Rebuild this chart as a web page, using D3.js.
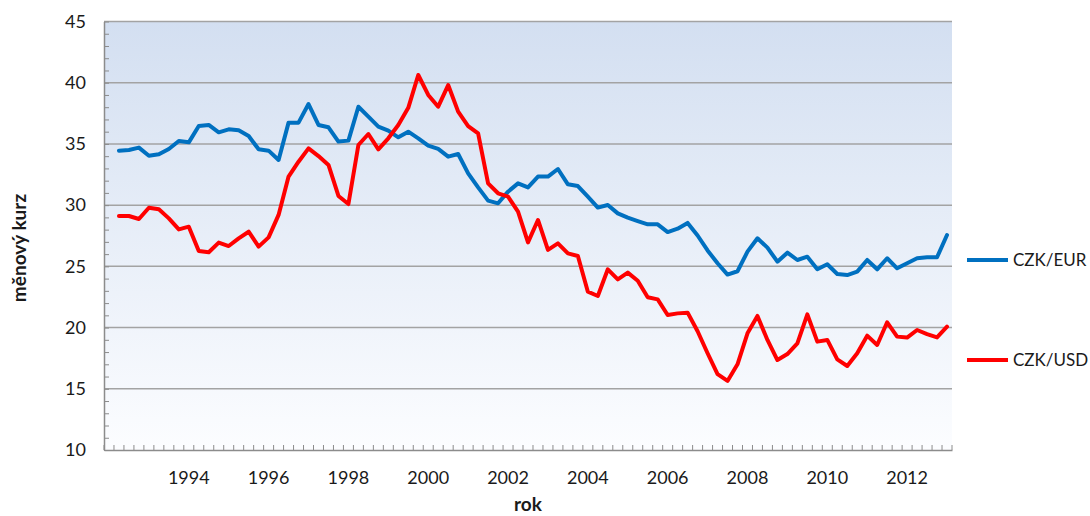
<!DOCTYPE html>
<html>
<head>
<meta charset="utf-8">
<script src="https://cdn.jsdelivr.net/npm/d3@7"></script>
<style>
    body { margin: 0; background: #fff; }
    text { font-family: Lato, "Open Sans", sans-serif; fill: #1a1a1a; }
</style>
</head>
<body>
<svg id="chart" width="1090" height="516"></svg>
<script>
// quarters 1992 Q1 .. 2013 Q1, first data point is 1992 Q2
const startYear = 1992;
const nQuarters = 85;
const categories = [];
for (let i = 0; i < nQuarters; i++) {
    categories.push((startYear + Math.floor(i / 4)) + "Q" + (i % 4 + 1));
}
const tickLabels = ["1994", "1996", "1998", "2000", "2002", "2004", "2006", "2008", "2010", "2012"];
const yTicks = [10, 15, 20, 25, 30, 35, 40, 45];

const czkEur = [
    34.45, 34.5, 34.7, 34.04, 34.15, 34.59, 35.24, 35.13, 36.46, 36.55,
    35.95, 36.19, 36.11, 35.65, 34.56, 34.45, 33.69, 36.74, 36.74, 38.26,
    36.55, 36.36, 35.19, 35.27, 38.04, 37.23, 36.41, 36.08, 35.54, 36.0,
    35.46, 34.86, 34.59, 33.96, 34.18, 32.6, 31.45, 30.37, 30.15, 31.1,
    31.78, 31.45, 32.33, 32.33, 32.95, 31.7, 31.56, 30.69, 29.8, 30.01,
    29.33, 28.98, 28.7, 28.43, 28.43, 27.8, 28.08, 28.55, 27.52, 26.3,
    25.25, 24.33, 24.6, 26.2, 27.29, 26.53, 25.38, 26.12, 25.52, 25.79,
    24.76, 25.17, 24.38, 24.29, 24.57, 25.52, 24.76, 25.66, 24.84, 25.25,
    25.66, 25.74, 25.74, 27.56
];
const czkUsd = [
    29.11, 29.11, 28.87, 29.79, 29.66, 28.92, 28.02, 28.24, 26.25, 26.15,
    26.94, 26.66, 27.29, 27.83, 26.61, 27.37, 29.2, 32.33, 33.55, 34.64,
    34.01, 33.28, 30.75, 30.09, 34.91, 35.81, 34.56, 35.46, 36.55, 37.95,
    40.63, 39.0, 38.04, 39.81, 37.64, 36.46, 35.86, 31.78, 30.97, 30.69,
    29.47, 26.96, 28.79, 26.34, 26.88, 26.06, 25.85, 22.93, 22.58, 24.76,
    23.94, 24.49, 23.83, 22.47, 22.3, 21.03, 21.16, 21.22, 19.7, 17.9,
    16.2, 15.64, 17.0, 19.53, 20.95, 18.99, 17.35, 17.84, 18.71, 21.08,
    18.85, 18.99, 17.4, 16.86, 17.9, 19.34, 18.58, 20.43, 19.26, 19.18,
    19.8, 19.47, 19.2, 20.07
];
const seriesNames = ["CZK/EUR", "CZK/USD"];
const seriesColors = ["#0070c0", "#ff0000"];

const svg = d3.select("#chart");
const plotLeft = 104, plotRight = 952, plotTop = 21.5, plotBottom = 450;

const x = d3.scaleBand().domain(categories).range([plotLeft, plotRight]).padding(0);
const y = d3.scaleLinear().domain([10, 45]).range([plotBottom, plotTop]);

// background gradient of the plot area
const grad = svg.append("defs").append("linearGradient")
    .attr("id", "bg")
    .attr("x1", 0).attr("y1", 0).attr("x2", 0).attr("y2", 1);
grad.append("stop").attr("offset", "0%").attr("stop-color", "#d3dff1");
grad.append("stop").attr("offset", "100%").attr("stop-color", "#fcfdff");

svg.append("rect")
    .attr("x", plotLeft).attr("y", plotTop)
    .attr("width", plotRight - plotLeft).attr("height", plotBottom - plotTop)
    .attr("fill", "url(#bg)");

// horizontal gridlines
svg.append("g")
    .selectAll("line")
    .data(yTicks.filter(d => d > 10))
    .enter().append("line")
    .attr("x1", plotLeft).attr("x2", plotRight)
    .attr("y1", d => y(d)).attr("y2", d => y(d))
    .attr("stroke", "#a3a3a3")
    .attr("stroke-width", 1.5);

// y axis: line, minor ticks inside, labels
const yAxis = svg.append("g").attr("transform", `translate(${plotLeft},0)`)
    .call(d3.axisLeft(y).tickValues(d3.range(10, 46, 1)).tickSize(-5).tickSizeOuter(0).tickFormat(""));
yAxis.select(".domain").attr("stroke", "#8c8c8c").attr("stroke-width", 1.5);
yAxis.selectAll(".tick line").attr("stroke", "#8c8c8c");

svg.append("g")
    .selectAll("text")
    .data(yTicks)
    .enter().append("text")
    .attr("x", 86)
    .attr("y", d => y(d))
    .attr("dy", "0.35em")
    .attr("text-anchor", "end")
    .attr("font-size", 18)
    .text(d => d);

// x axis: tick marks at every category boundary
const xAxis = svg.append("g").attr("transform", `translate(0,${plotBottom})`)
    .call(d3.axisBottom(x).tickSizeOuter(0).tickSize(0).tickFormat(""));
xAxis.select(".domain").attr("stroke", "#8c8c8c").attr("stroke-width", 1.5);
xAxis.selectAll(".tick").remove();
xAxis.selectAll("line.qtick")
    .data(categories.concat(["end"]))
    .enter().append("line")
    .attr("class", "qtick")
    .attr("x1", (d, i) => plotLeft + i * x.bandwidth())
    .attr("x2", (d, i) => plotLeft + i * x.bandwidth())
    .attr("y1", 0).attr("y2", -5)
    .attr("stroke", "#8c8c8c");

svg.append("g")
    .selectAll("text")
    .data(tickLabels)
    .enter().append("text")
    .attr("x", d => x(d + "Q1") + x.bandwidth() / 2)
    .attr("y", 484)
    .attr("text-anchor", "middle")
    .attr("font-size", 18)
    .text(d => d);

// axis titles
svg.append("text")
    .attr("x", (plotLeft + plotRight) / 2)
    .attr("y", 511)
    .attr("text-anchor", "middle")
    .attr("font-size", 19)
    .attr("font-weight", "bold")
    .text("rok");

svg.append("text")
    .attr("transform", "translate(26,248) rotate(-90)")
    .attr("text-anchor", "middle")
    .attr("font-size", 19)
    .attr("font-weight", "bold")
    .text("měnový kurz");

// lines
const line = d3.line()
    .x((d, i) => x(categories[i + 1]) + x.bandwidth() / 2)
    .y(d => y(d));

[czkEur, czkUsd].forEach((s, k) => {
    svg.append("path")
        .datum(s)
        .attr("d", line)
        .attr("fill", "none")
        .attr("stroke", seriesColors[k])
        .attr("stroke-width", 4)
        .attr("stroke-linejoin", "round")
        .attr("stroke-linecap", "round");
});

// legend
const legendY = [260, 360];
const legend = svg.append("g")
    .selectAll("g")
    .data(seriesNames)
    .enter().append("g")
    .attr("transform", (d, i) => `translate(967,${legendY[i]})`);
legend.append("line")
    .attr("x1", 0).attr("x2", 41)
    .attr("stroke", (d, i) => seriesColors[i])
    .attr("stroke-width", 4);
legend.append("text")
    .attr("x", 46)
    .attr("dy", "0.35em")
    .attr("font-size", 17)
    .text(d => d);
</script>
</body>
</html>
